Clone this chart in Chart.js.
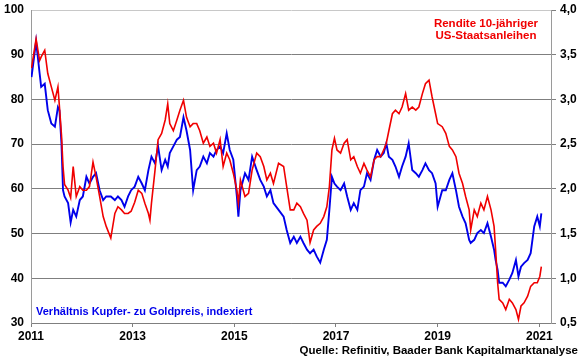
<!DOCTYPE html>
<html><head><meta charset="utf-8">
<script src="https://cdn.jsdelivr.net/npm/chart.js@4.4.1/dist/chart.umd.min.js"></script>
<style>html,body{margin:0;padding:0;background:#fff;}#wrap{width:580px;height:359px;}</style>
</head><body><div id="wrap"><canvas id="c" width="580" height="359"></canvas></div>
<script>
const dates = [
2011.01,2011.10,2011.17,2011.20,2011.27,2011.33,2011.40,2011.47,2011.53,2011.56,
2011.60,2011.63,2011.66,2011.73,2011.78,2011.83,2011.89,2011.96,2012.02,2012.09,
2012.15,2012.22,2012.28,2012.35,2012.42,2012.48,2012.57,2012.65,2012.71,2012.78,
2012.84,2012.91,2012.97,2013.04,2013.11,2013.18,2013.24,2013.31,2013.34,2013.37,
2013.44,2013.50,2013.57,2013.64,2013.69,2013.73,2013.80,2013.87,2013.93,2014.00,
2014.06,2014.13,2014.19,2014.26,2014.32,2014.39,2014.46,2014.52,2014.59,2014.65,
2014.72,2014.78,2014.85,2014.91,2014.98,2015.05,2015.08,2015.12,2015.21,2015.28,
2015.35,2015.44,2015.51,2015.58,2015.64,2015.71,2015.77,2015.87,2015.97,2016.03,
2016.10,2016.17,2016.23,2016.30,2016.36,2016.43,2016.49,2016.56,2016.62,2016.69,
2016.76,2016.82,2016.87,2016.92,2016.97,2017.02,2017.09,2017.16,2017.22,2017.29,
2017.35,2017.42,2017.48,2017.55,2017.61,2017.68,2017.75,2017.81,2017.88,2017.94,
2017.99,2018.04,2018.11,2018.17,2018.24,2018.30,2018.37,2018.43,2018.50,2018.57,
2018.63,2018.70,2018.76,2018.83,2018.89,2018.96,2019.00,2019.09,2019.16,2019.23,
2019.29,2019.36,2019.42,2019.49,2019.55,2019.62,2019.65,2019.72,2019.78,2019.85,
2019.91,2019.98,2020.05,2020.11,2020.14,2020.18,2020.21,2020.28,2020.34,2020.41,
2020.47,2020.54,2020.59,2020.64,2020.70,2020.77,2020.83,2020.90,2020.96,2021.01,
2021.04];
const copperGold = [
85,93,85.8,82.8,83.5,77.6,74.6,73.9,78.3,77.6,
70,59.7,58.3,56.8,52.5,55.3,53.8,57.5,58.3,62.7,
61.2,62.7,63.5,59.7,57.5,58.3,58.3,57.5,58.3,57.5,
56,58.3,59.7,60.5,62.7,61.2,59.7,64.2,65.7,67.2,
65.7,69.5,64.2,66.5,65,68,69.5,71,71.6,76,
73,68.7,59.7,64.2,65,67.2,65.7,68,67.2,68.7,
69.5,68,72.4,68.7,66.5,58.3,53.8,59.7,63.5,62,
67.2,64.2,62,60.5,58.3,59.7,56.8,55.3,53.8,50.8,
47.9,49.3,47.9,49.3,47.9,46.4,45.6,46.4,44.9,43.5,
46.4,48.6,55.3,62.7,61.2,60.5,59.7,61.2,58.3,55.3,
56.8,55.3,59.7,60.5,63.5,62,66.5,68.7,67.2,68,
70.2,67.2,66.5,65,62.7,65,67.2,70.2,64.2,63.5,
62.7,64.2,65.7,64.2,63.5,61.2,56,59.7,59.7,62,
63.5,59.7,56,53.8,52.3,48.6,47.9,48.6,50.1,50.8,
50.1,52.3,49.3,46.4,44.1,41.9,39,39,38.2,39.7,
41.2,44.1,40.4,42.6,43.4,44.1,45.6,51.6,53.8,51.6,
54.5];
const yield10y = [
3.35,3.675,3.435,3.475,3.55,3.29,3.14,2.99,3.14,2.915,
2.6,2.25,2.05,1.985,1.9,2.25,1.915,2.025,1.985,1.985,
2.025,2.3,2.135,1.915,1.69,1.58,1.45,1.725,1.8,1.765,
1.725,1.725,1.75,1.85,1.985,1.95,1.84,1.725,1.65,1.84,
2.21,2.55,2.62,2.77,2.95,2.73,2.65,2.77,2.88,2.99,
2.8,2.695,2.73,2.73,2.65,2.51,2.58,2.475,2.51,2.4,
2.55,2.25,2.4,2.325,2.175,1.985,1.84,2.1,1.915,1.95,
2.21,2.4,2.36,2.25,2.1,2.175,2.06,2.285,2.25,2.025,
1.765,1.765,1.84,1.8,1.725,1.65,1.4,1.54,1.58,1.615,
1.69,1.8,2.025,2.435,2.565,2.435,2.4,2.51,2.55,2.325,
2.36,2.25,2.175,2.285,2.21,2.135,2.325,2.36,2.36,2.435,
2.51,2.65,2.84,2.88,2.84,2.915,3.065,2.88,2.915,2.88,
2.915,3.065,3.175,3.215,3.03,2.84,2.73,2.695,2.62,2.475,
2.435,2.36,2.175,2.06,1.915,1.765,1.54,1.765,1.69,1.84,
1.765,1.915,1.765,1.58,1.32,0.95,0.765,0.725,0.65,0.765,
0.725,0.65,0.54,0.69,0.725,0.8,0.91,0.95,0.95,1.02,
1.13];
const xTicks = [2011,2013,2015,2017,2019,2021];
const xTickLabels = ['2011','2013','2015','2017','2019','2021'];
const leftTicks = [30,40,50,60,70,80,90,100];
const leftTickLabels = ['30','40','50','60','70','80','90','100'];
const rightTicks = [0.5,1.0,1.5,2.0,2.5,3.0,3.5,4.0];
const rightTickLabels = ['0,5','1,0','1,5','2,0','2,5','3,0','3,5','4,0'];
const redLabel = ['Rendite 10-jähriger','US-Staatsanleihen'];
const blueLabel = 'Verhältnis Kupfer- zu Goldpreis, indexiert';
const sourceLabel = 'Quelle: Refinitiv, Baader Bank Kapitalmarktanalyse';

const RED = 'rgb(240,0,0)';
const BLUE = 'rgb(0,0,235)';
const FONT = '"Liberation Sans", Arial, sans-serif';

const annot = {
  id: 'annot',
  afterDraw(chart) {
    const ctx = chart.ctx;
    ctx.save();
    ctx.textBaseline = 'alphabetic';
    ctx.font = 'bold 11.5px ' + FONT;
    ctx.fillStyle = RED;
    ctx.textAlign = 'center';
    ctx.fillText(redLabel[0], 486, 27);
    ctx.fillText(redLabel[1], 486, 39);
    ctx.fillStyle = BLUE;
    ctx.textAlign = 'left';
    ctx.font = 'bold 11px ' + FONT;
    ctx.fillText(blueLabel, 36, 315);
    ctx.fillStyle = '#000';
    ctx.textAlign = 'right';
    ctx.font = 'bold 11.5px ' + FONT;
    ctx.fillText(sourceLabel, 578, 354);
    ctx.restore();
  }
};

function fixV(width) {
  return (s) => { s.width = width; s.paddingTop = 0; s.paddingBottom = 0; };
}

new Chart(document.getElementById('c'), {
  type: 'line',
  data: {
    datasets: [
      { label: 'Rendite', data: dates.map((d,i)=>({x:d,y:yield10y[i]})), yAxisID: 'yR',
        borderColor: RED, borderWidth: 1.6, pointRadius: 0, tension: 0, fill: false },
      { label: 'Kupfer/Gold', data: dates.map((d,i)=>({x:d,y:copperGold[i]})), yAxisID: 'yL',
        borderColor: BLUE, borderWidth: 1.9, pointRadius: 0, tension: 0, fill: false }
    ]
  },
  options: {
    responsive: false, animation: false, devicePixelRatio: 1,
    layout: { padding: { top: 10, left: 0, right: 0, bottom: 0 } },
    plugins: { legend: { display: false }, tooltip: { enabled: false } },
    scales: {
      x: {
        type: 'linear', min: 2011, max: 2021.23,
        afterBuildTicks: (s) => { s.ticks = xTicks.map(v => ({ value: v })); },
        afterFit: (s) => { s.height = 36; s.paddingLeft = 0; s.paddingRight = 0; },
        ticks: { callback: (v) => xTickLabels[xTicks.indexOf(v)], color: '#000',
                 font: { family: FONT, weight: 'bold', size: 12 }, padding: 2, maxRotation: 0, autoSkip: false },
        grid: { drawOnChartArea: false, drawTicks: true, tickLength: 4, color: '#7f7f7f' },
        border: { color: '#7f7f7f', width: 1 }
      },
      yL: {
        position: 'left', min: 30, max: 100,
        afterBuildTicks: (s) => { s.ticks = leftTicks.map(v => ({ value: v })); },
        afterFit: fixV(31),
        ticks: { callback: (v) => leftTickLabels[leftTicks.indexOf(v)], color: '#000',
                 font: { family: FONT, weight: 'bold', size: 12 }, padding: 7 },
        grid: { drawTicks: false, color: (c) => (c.tick && c.tick.value === 100) ? '#c8c8c8' : '#7f7f7f', lineWidth: 1 },
        border: { color: '#9a9a9a', width: 1 }
      },
      yR: {
        position: 'right', min: 0.5, max: 4.0,
        afterBuildTicks: (s) => { s.ticks = rightTicks.map(v => ({ value: v })); },
        afterFit: fixV(29),
        ticks: { callback: (v) => rightTickLabels[rightTicks.findIndex(t => Math.abs(t - v) < 1e-9)], color: '#000',
                 font: { family: FONT, weight: 'bold', size: 12 }, padding: 4 },
        grid: { drawOnChartArea: false, drawTicks: true, tickLength: 5, color: '#7f7f7f' },
        border: { color: '#9a9a9a', width: 1 }
      }
    }
  },
  plugins: [annot]
});
</script></body></html>
